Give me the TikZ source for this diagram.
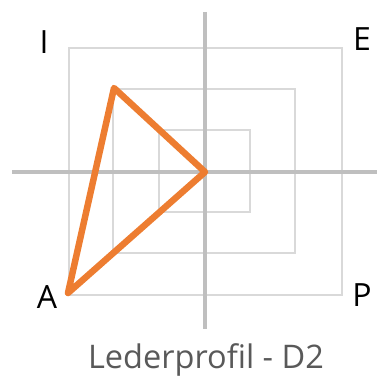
\documentclass[tikz,border=0pt]{standalone}
\usepackage{fontspec}
\setmainfont{Open Sans}
\definecolor{axisgray}{HTML}{BFBFBF}
\definecolor{boxgray}{HTML}{D9D9D9}
\definecolor{tri}{HTML}{ED7D31}
\definecolor{captiongray}{HTML}{595959}
\begin{document}
\begin{tikzpicture}[x=1pt,y=-1pt,
  axis/.style={draw=axisgray,line width=3.6pt},
  box/.style={draw=boxgray,line width=2.4pt},
  corner/.style={font=\fontsize{32}{34}\selectfont,text=black,anchor=base,inner sep=0pt},
  profile/.style={draw=tri,line width=6.5pt,line join=round,line cap=round}]
\useasboundingbox (0,0) rectangle (377,377);
% squares
\draw[box] (69,48) rectangle (342,295);
\draw[box] (113,89) rectangle (295,253);
\draw[box] (159,130) rectangle (250,212);
% axes
\coordinate (vt) at (205,12);
\coordinate (vb) at (205,329);
\coordinate (hl) at (12,172);
\coordinate (hr) at (377,172);
\draw[axis] (vt) -- (vb);
\draw[axis] (hl) -- (hr);
% triangle
\coordinate (t1) at (114,88);
\coordinate (t2) at (205,172);
\coordinate (t3) at (68,293);
\draw[profile] (t1) -- (t2) -- (t3) -- cycle;
% labels
\node[corner] (lI) at (44,54) {I};
\node[corner] (lE) at (362,51) {E};
\node[corner] (lA) at (47,308) {A};
\node[corner] (lP) at (362,306) {P};
\node[font=\fontsize{32.5}{34}\selectfont,text=captiongray,anchor=base,inner sep=0pt] (cap) at (206,368) {Lederprofil - D2};
\end{tikzpicture}
\end{document}
